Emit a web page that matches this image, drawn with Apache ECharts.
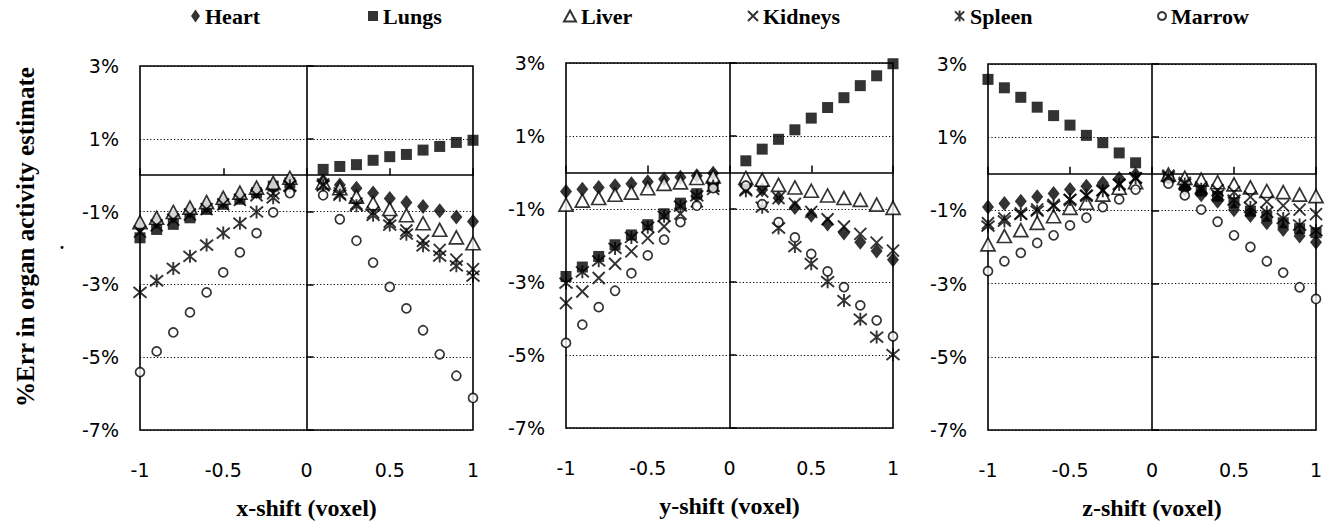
<!DOCTYPE html>
<html><head><meta charset="utf-8">
<script src="https://cdn.jsdelivr.net/npm/echarts@6/dist/echarts.min.js"></script>
<style>html,body{margin:0;padding:0;background:#fff}#c{width:1333px;height:529px}</style>
</head><body><div id="c"></div>
<script>
// ---------- data ----------
const xShift = [-1,-0.9,-0.8,-0.7,-0.6,-0.5,-0.4,-0.3,-0.2,-0.1,0.1,0.2,0.3,0.4,0.5,0.6,0.7,0.8,0.9,1];
const organs = ['Heart','Lungs','Liver','Kidneys','Spleen','Marrow'];
const panelNames = ['x-shift (voxel)','y-shift (voxel)','z-shift (voxel)'];
const yAxisTitle = '%Err in organ activity estimate';

// panel 1: x-shift
const heartX   = [-1.42,-1.28,-1.13,-1.00,-0.85,-0.72,-0.58,-0.45,-0.30,-0.15,-0.16,-0.27,-0.36,-0.49,-0.64,-0.75,-0.86,-0.98,-1.15,-1.27];
const lungsX   = [-1.72,-1.49,-1.35,-1.17,-0.94,-0.80,-0.66,-0.48,-0.30,-0.21,0.16,0.24,0.29,0.41,0.51,0.57,0.69,0.79,0.90,0.96];
const liverX   = [-1.29,-1.17,-1.01,-0.89,-0.74,-0.62,-0.48,-0.34,-0.21,-0.07,-0.20,-0.36,-0.59,-0.77,-0.93,-1.10,-1.32,-1.50,-1.71,-1.87];
const kidneysX = [-1.55,-1.38,-1.22,-1.08,-0.93,-0.80,-0.68,-0.55,-0.50,-0.30,-0.25,-0.50,-0.78,-1.02,-1.28,-1.52,-1.80,-2.05,-2.32,-2.58];
const spleenX  = [-3.22,-2.90,-2.56,-2.23,-1.92,-1.59,-1.32,-1.01,-0.62,-0.29,-0.29,-0.55,-0.84,-1.10,-1.37,-1.62,-1.94,-2.22,-2.49,-2.77];
const marrowX  = [-5.41,-4.84,-4.32,-3.77,-3.22,-2.67,-2.12,-1.59,-1.02,-0.49,-0.55,-1.21,-1.80,-2.40,-3.07,-3.66,-4.26,-4.92,-5.51,-6.12];

// panel 2: y-shift
const heartY   = [-0.52,-0.46,-0.41,-0.36,-0.31,-0.25,-0.18,-0.13,-0.09,-0.02,-0.38,-0.47,-0.70,-0.96,-1.17,-1.41,-1.66,-1.91,-2.15,-2.39];
const lungsY   = [-2.85,-2.59,-2.30,-1.98,-1.71,-1.43,-1.13,-0.84,-0.58,-0.38,0.32,0.64,0.91,1.17,1.49,1.78,2.05,2.38,2.65,2.98];
const liverY   = [-0.88,-0.77,-0.70,-0.61,-0.55,-0.43,-0.31,-0.27,-0.15,-0.11,-0.15,-0.20,-0.34,-0.41,-0.50,-0.63,-0.70,-0.75,-0.88,-0.97];
const kidneysY = [-3.58,-3.26,-2.89,-2.50,-2.16,-1.80,-1.48,-1.13,-0.79,-0.45,-0.45,-0.52,-0.70,-0.86,-1.08,-1.28,-1.48,-1.68,-1.92,-2.14];
const spleenY  = [-3.03,-2.72,-2.42,-2.08,-1.78,-1.50,-1.20,-0.92,-0.64,-0.38,-0.50,-0.95,-1.52,-2.03,-2.50,-2.99,-3.51,-4.02,-4.51,-4.99];
const marrowY  = [-4.67,-4.17,-3.69,-3.24,-2.76,-2.27,-1.84,-1.36,-0.91,-0.43,-0.36,-0.87,-1.36,-1.78,-2.23,-2.71,-3.14,-3.64,-4.05,-4.49];

// panel 3: z-shift
const heartZ   = [-0.91,-0.81,-0.75,-0.63,-0.54,-0.43,-0.34,-0.25,-0.13,-0.02,-0.10,-0.42,-0.57,-0.75,-0.98,-1.14,-1.34,-1.52,-1.70,-1.87];
const lungsZ   = [2.58,2.35,2.09,1.82,1.59,1.33,1.05,0.85,0.57,0.30,-0.11,-0.32,-0.47,-0.61,-0.79,-1.02,-1.16,-1.34,-1.50,-1.61];
const liverZ   = [-1.93,-1.70,-1.54,-1.34,-1.16,-0.93,-0.79,-0.57,-0.38,-0.23,-0.02,-0.11,-0.16,-0.23,-0.29,-0.37,-0.47,-0.50,-0.57,-0.61];
const kidneysZ = [-1.35,-1.22,-1.08,-0.97,-0.85,-0.72,-0.60,-0.45,-0.30,-0.12,-0.05,-0.25,-0.37,-0.45,-0.50,-0.63,-0.76,-0.87,-0.98,-1.10];
const spleenZ  = [-1.43,-1.29,-1.11,-1.02,-0.88,-0.70,-0.59,-0.46,-0.29,-0.11,-0.08,-0.28,-0.42,-0.58,-0.72,-0.92,-1.05,-1.22,-1.40,-1.55];
const marrowZ  = [-2.66,-2.39,-2.16,-1.89,-1.68,-1.41,-1.20,-0.91,-0.70,-0.43,-0.27,-0.59,-0.98,-1.31,-1.68,-2.00,-2.39,-2.70,-3.10,-3.42];

const panels = [
  [heartX, lungsX, liverX, kidneysX, spleenX, marrowX],
  [heartY, lungsY, liverY, kidneysY, spleenY, marrowY],
  [heartZ, lungsZ, liverZ, kidneysZ, spleenZ, marrowZ]
];

// ---------- styles ----------
const SERIF = '"Liberation Serif","Times New Roman",serif';
const SANS = '"DejaVu Sans",sans-serif';
const markerStyles = {
  Heart:   {symbol:'diamond', symbolSize:[12,15], itemStyle:{color:'#000'}},
  Lungs:   {symbol:'rect', symbolSize:11, itemStyle:{color:'#000'}},
  Liver:   {symbol:'triangle', symbolSize:[14,13], itemStyle:{color:'#fff', borderColor:'#000', borderWidth:1.7}},
  Kidneys: {symbol:'path://M0,0L10,10M10,0L0,10', symbolSize:12, itemStyle:{color:'rgba(0,0,0,0)', borderColor:'#000', borderWidth:1.9}},
  Spleen:  {symbol:'path://M0,0L10,10M10,0L0,10M5,-1L5,11', symbolSize:13, itemStyle:{color:'rgba(0,0,0,0)', borderColor:'#000', borderWidth:1.9}},
  Marrow:  {symbol:'circle', symbolSize:9, itemStyle:{color:'#fff', borderColor:'#000', borderWidth:1.7}}
};
const gridBoxes = [
  {left:140, top:66, width:333, height:364},
  {left:566, top:63, width:327, height:365},
  {left:988, top:64, width:328, height:366}
];
const legendLeft = [191, 368, 563, 747, 954, 1157];
const legendIcon = {Heart:[9,13], Lungs:[10,10], Liver:[12,11], Kidneys:[10,10], Spleen:[11,11], Marrow:[8,8]};

const grid = [], xAxis = [], yAxis = [], series = [];
gridBoxes.forEach((g, gi) => {
  grid.push(Object.assign({show:true, borderColor:'#000', borderWidth:1.6, backgroundColor:'rgba(0,0,0,0)'}, g));
  xAxis.push({type:'value', gridIndex:gi, min:-1, max:1, interval:0.5, position:'bottom',
    axisLine:{show:true, onZero:true, onZeroAxisIndex:2*gi, lineStyle:{color:'#000', width:1.6}},
    axisTick:{show:true, inside:true, length:7, lineStyle:{color:'#000', width:1.5}},
    axisLabel:{show:false}, splitLine:{show:false}});
  xAxis.push({type:'value', gridIndex:gi, min:-1, max:1, interval:0.5, position:'bottom',
    axisLine:{show:false, onZero:false}, axisTick:{show:false}, splitLine:{show:false},
    axisLabel:{show:true, margin:30, color:'#000', fontFamily:SANS, fontSize:19},
    name:panelNames[gi], nameLocation:'middle', nameGap:66,
    nameTextStyle:{color:'#000', fontFamily:SERIF, fontWeight:'bold', fontSize:24}});
  yAxis.push({type:'value', gridIndex:gi, min:-7, max:3, interval:2, position:'left',
    axisLine:{show:false, onZero:false}, axisTick:{show:false},
    axisLabel:{show:true, margin:21, color:'#000', fontFamily:SANS, fontSize:19, formatter:'{value}%'},
    splitLine:{show:true, lineStyle:{color:'#000', width:1.2, type:[1.2,2.2]}}});
  yAxis.push({type:'value', gridIndex:gi, min:-7, max:3, interval:2, position:'left',
    axisLine:{show:true, onZero:true, onZeroAxisIndex:2*gi, lineStyle:{color:'#000', width:1.6}},
    axisTick:{show:true, inside:true, length:7, lineStyle:{color:'#000', width:1.5}},
    axisLabel:{show:false}, splitLine:{show:false}});
  organs.forEach((name, oi) => {
    const vals = panels[gi][oi];
    const ms = markerStyles[name];
    series.push({type:'scatter', name:name, xAxisIndex:2*gi, yAxisIndex:2*gi,
      symbol:ms.symbol, symbolSize:ms.symbolSize, itemStyle:ms.itemStyle, z:2+oi,
      emphasis:{disabled:true}, clip:false,
      data:xShift.map((x, i) => [x, vals[i]])});
  });
});

const legend = organs.map((name, i) => ({
  data:[name], left:legendLeft[i], top:5, padding:0,
  itemWidth:legendIcon[name][0], itemHeight:legendIcon[name][1],
  textStyle:{color:'#000', fontFamily:SERIF, fontWeight:'bold', fontSize:22},
  selectedMode:false
}));

const chart = echarts.init(document.getElementById('c'), null, {renderer:'svg'});
chart.setOption({
  animation:false,
  backgroundColor:'#fff',
  grid, xAxis, yAxis, series, legend,
  graphic:[
    {type:'text', x:25, y:237, rotation:Math.PI/2,
     style:{text:yAxisTitle, fill:'#000', font:'bold 25px ' + SERIF, textAlign:'center', textVerticalAlign:'middle'}},
    {type:'text', x:62, y:252,
     style:{text:'.', fill:'#000', font:'bold 18px ' + SERIF, textAlign:'center', textVerticalAlign:'bottom'}}
  ]
});
</script>
</body></html>
